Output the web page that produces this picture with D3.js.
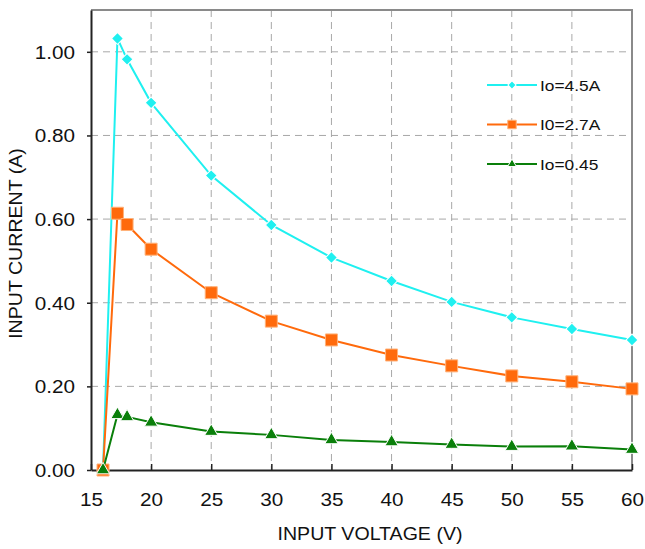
<!DOCTYPE html>
<html>
<head>
<meta charset="utf-8">
<script src="https://cdnjs.cloudflare.com/ajax/libs/d3/7.8.5/d3.min.js"></script>
<style>
  body { margin: 0; background: #fff; }
  #chart text { font-family: "Liberation Sans", Arial, sans-serif; fill: #111; }
</style>
</head>
<body>
<div id="chart"></div>
<script>
  var width = 645;
  var height = 549;

var voltage = [16, 17.2, 18, 20, 25, 30, 35, 40, 45, 50, 55, 60];
var io_45 = [0, 1.032, 0.982, 0.878, 0.704, 0.586, 0.508, 0.452, 0.402, 0.365, 0.337, 0.311];
var io_27 = [0, 0.614, 0.587, 0.528, 0.424, 0.356, 0.311, 0.275, 0.249, 0.225, 0.211, 0.194];
var io_045 = [0, 0.132, 0.127, 0.114, 0.092, 0.084, 0.072, 0.067, 0.061, 0.056, 0.057, 0.049];

var series_names = ["Io=4.5A", "I0=2.7A", "Io=0.45"];
var x_ticks = [15, 20, 25, 30, 35, 40, 45, 50, 55, 60];
var y_ticks = [0, 0.2, 0.4, 0.6, 0.8, 1.0];

var margin = {left: 91, right: 13, top: 10, bottom: 79};
var plot_w = width - margin.left - margin.right;
var plot_h = height - margin.top - margin.bottom;

var x = d3.scaleLinear().domain([15, 60]).range([0, plot_w]);
var y = d3.scaleLinear().domain([0, 1.1]).range([plot_h, 0]);

var series = [
  {name: series_names[0], values: io_45, color: "#1ff0f0", marker: "diamond"},
  {name: series_names[1], values: io_27, color: "#ff6a0c", marker: "square"},
  {name: series_names[2], values: io_045, color: "#0a7f0a", marker: "triangle"}
];

// marker paths, big for points and small for legend
var markerPath = function(kind, small){
  if (kind === "diamond") return d3.symbol().type(d3.symbolSquare).size(small ? 34 : 70)();
  if (kind === "square") return d3.symbol().type(d3.symbolSquare).size(small ? 72 : 144)();
  return d3.symbol().type(d3.symbolTriangle).size(small ? 34 : 76)();
};
var markerStroke = function(kind){
  if (kind === "square") return "#ffb27a";
  return "#fff";
};

var svg = d3.select("#chart").append("svg")
  .attr("width", width)
  .attr("height", height);

var g = svg.append("g")
  .attr("transform", "translate(" + margin.left + "," + margin.top + ")");

// grid
g.append("g").selectAll("line")
  .data(x_ticks.slice(1))
  .enter().append("line")
  .attr("x1", function(d){ return x(d); })
  .attr("x2", function(d){ return x(d); })
  .attr("y1", 0).attr("y2", plot_h)
  .style("stroke", "#a8a8a8")
  .style("stroke-dasharray", "7,5");

g.append("g").selectAll("line")
  .data(y_ticks.slice(1))
  .enter().append("line")
  .attr("x1", 0).attr("x2", plot_w)
  .attr("y1", function(d){ return y(d); })
  .attr("y2", function(d){ return y(d); })
  .style("stroke", "#a8a8a8")
  .style("stroke-dasharray", "7,5");

// top and right border
g.append("path")
  .attr("d", "M0,0H" + plot_w + "V" + plot_h)
  .style("fill", "none")
  .style("stroke", "#8a8a8a")
  .style("stroke-width", 2);

// axes
var xAxis = g.append("g")
  .attr("transform", "translate(0," + plot_h + ")")
  .call(d3.axisBottom(x).tickValues(x_ticks).tickSize(-6).tickSizeOuter(0).tickFormat(d3.format("d")));
xAxis.select(".domain").style("stroke", "#222").style("stroke-width", 2);
xAxis.selectAll(".tick line").style("stroke", "#222").style("stroke-width", 1.5);
xAxis.selectAll(".tick text")
  .attr("y", null).attr("dy", null)
  .attr("transform", "translate(0,36) scale(1.15,1)")
  .style("font-size", "18px");

var yAxis = g.append("g")
  .call(d3.axisLeft(y).tickValues(y_ticks).tickSize(4).tickSizeOuter(0).tickFormat(d3.format(".2f")));
yAxis.select(".domain").style("stroke", "#222").style("stroke-width", 2);
yAxis.selectAll(".tick line").style("stroke", "#222").style("stroke-width", 1.5);
yAxis.selectAll(".tick text")
  .attr("x", null).attr("dy", "0.36em")
  .attr("transform", "translate(-16,0) scale(1.15,1)")
  .style("font-size", "18px");
svg.selectAll(".tick text").style("font-family", "'Liberation Sans', Arial, sans-serif").style("fill", "#111");

// series lines and markers
var line = d3.line()
  .x(function(d){ return x(d[0]); })
  .y(function(d){ return y(d[1]); });

series.forEach(function(s){
  var pts = voltage.map(function(v, i){ return [v, s.values[i]]; });
  g.append("path")
    .datum(pts)
    .attr("d", line)
    .style("fill", "none")
    .style("stroke", s.color)
    .style("stroke-width", 2);
  g.append("g").selectAll("path")
    .data(pts)
    .enter().append("path")
    .attr("d", markerPath(s.marker, false))
    .attr("transform", function(d){
      return "translate(" + x(d[0]) + "," + y(d[1]) + ")" + (s.marker === "diamond" ? " rotate(45)" : "");
    })
    .style("fill", s.color)
    .style("stroke", markerStroke(s.marker))
    .style("stroke-width", 1);
});

// legend
var legend = svg.append("g").selectAll("g")
  .data(series)
  .enter().append("g")
  .attr("transform", function(d, i){ return "translate(487," + (85 + i * 39.5) + ")"; });
legend.append("line")
  .attr("x1", 0).attr("x2", 50)
  .style("stroke", function(d){ return d.color; })
  .style("stroke-width", 2);
legend.append("path")
  .attr("d", function(d){ return markerPath(d.marker, true); })
  .attr("transform", function(d){ return "translate(25,0)" + (d.marker === "diamond" ? " rotate(45)" : ""); })
  .style("fill", function(d){ return d.color; })
  .style("stroke", function(d){ return markerStroke(d.marker); })
  .style("stroke-width", 1);
legend.append("text")
  .attr("dy", "0.36em")
  .attr("transform", "translate(53,0) scale(1.12,1)")
  .style("font-size", "15.5px")
  .text(function(d){ return d.name; });

// axis titles
svg.append("text")
  .attr("text-anchor", "middle")
  .attr("transform", "translate(370,540) scale(1.12,1)")
  .style("font-size", "17.5px")
  .text("INPUT VOLTAGE (V)");

svg.append("text")
  .attr("text-anchor", "middle")
  .attr("transform", "translate(21.5,243.5) rotate(-90) scale(1.12,1)")
  .style("font-size", "17.5px")
  .text("INPUT CURRENT (A)");
</script>
</body>
</html>
